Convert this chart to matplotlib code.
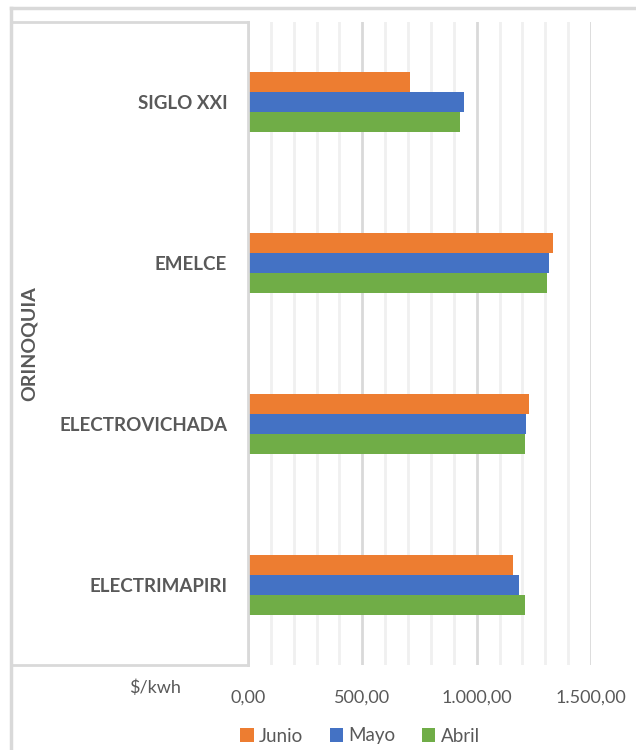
import matplotlib
matplotlib.use("Agg")
import matplotlib.pyplot as plt
from matplotlib.lines import Line2D
from matplotlib.ticker import FuncFormatter, MultipleLocator
import numpy as np

# bottom to top, as Excel draws them
empresas = ["ELECTRIMAPIRI", "ELECTROVICHADA", "EMELCE", "SIGLO XXI"]
region = "ORINOQUIA"
abril = [1212, 1211, 1306, 927]
mayo = [1183, 1216, 1318, 944]
junio = [1161, 1228, 1334, 710]

c_junio = "#ED7D31"
c_mayo = "#4472C4"
c_abril = "#70AD47"
gray_txt = "#595959"
grid_major = "#D9D9D9"
grid_minor = "#F0F0F0"

plt.rcParams["font.family"] = ["Lato", "DejaVu Sans"]

fig = plt.figure(figsize=(6.36, 7.5), dpi=100)
W, H = 636, 750
ax = fig.add_axes([248 / W, 1 - 665 / H, (591 - 248) / W, (665 - 22) / H])

y = np.arange(len(empresas))
h = 0.124
ax.barh(y - h, abril, height=h, color=c_abril, label="Abril", zorder=3)
ax.barh(y, mayo, height=h, color=c_mayo, label="Mayo", zorder=3)
ax.barh(y + h, junio, height=h, color=c_junio, label="Junio", zorder=3)

ax.set_xlim(0, 1500)
ax.set_ylim(-0.5, len(empresas) - 0.5)
ax.xaxis.set_major_locator(MultipleLocator(500))
ax.xaxis.set_minor_locator(MultipleLocator(100))
ax.grid(axis="x", which="minor", color=grid_minor, lw=2, zorder=0)
ax.grid(axis="x", which="major", color=grid_major, lw=2, zorder=1)


def fmt(v, pos):
    s = f"{v:,.2f}"
    return s.replace(",", "X").replace(".", ",").replace("X", ".")


ax.xaxis.set_major_formatter(FuncFormatter(fmt))
ax.tick_params(axis="x", which="both", length=0, pad=18, labelsize=13, labelcolor=gray_txt)
ax.set_yticks(y)
ax.set_yticklabels(empresas, fontweight="bold", fontsize=13.5, color=gray_txt)
ax.tick_params(axis="y", length=0, pad=15)

for s in ["top", "right", "bottom"]:
    ax.spines[s].set_visible(False)
ax.spines["left"].set_color(grid_major)
ax.spines["left"].set_linewidth(2)
ax.spines["left"].set_zorder(4)

# outer chart frame and category box
def px_line(xs, ys, lw=2):
    fig.add_artist(Line2D([v / W for v in xs], [1 - v / H for v in ys],
                          color=grid_major, lw=lw, transform=fig.transFigure))

px_line([11, 11], [8, 750], lw=2.5)
px_line([11, 636], [8, 8], lw=2.5)
px_line([11, 248], [22, 22])
px_line([11, 248], [665, 665])

fig.text(29 / W, 1 - 344 / H, region, rotation=90, ha="center", va="center",
         fontsize=14, fontweight="bold", color=gray_txt)
fig.text(155 / W, 1 - 688 / H, "$/kwh", ha="center", va="center",
         fontsize=13, color=gray_txt)

handles, labels = ax.get_legend_handles_labels()
fig.legend(handles[::-1], labels[::-1], loc="center", bbox_to_anchor=(360 / W, 1 - 736 / H),
           ncol=3, frameon=False, fontsize=13.5, labelcolor=gray_txt,
           handlelength=0.7, handleheight=0.7, handletextpad=0.3, columnspacing=1.4)

fig.savefig("out.png", dpi=100, facecolor="white")
